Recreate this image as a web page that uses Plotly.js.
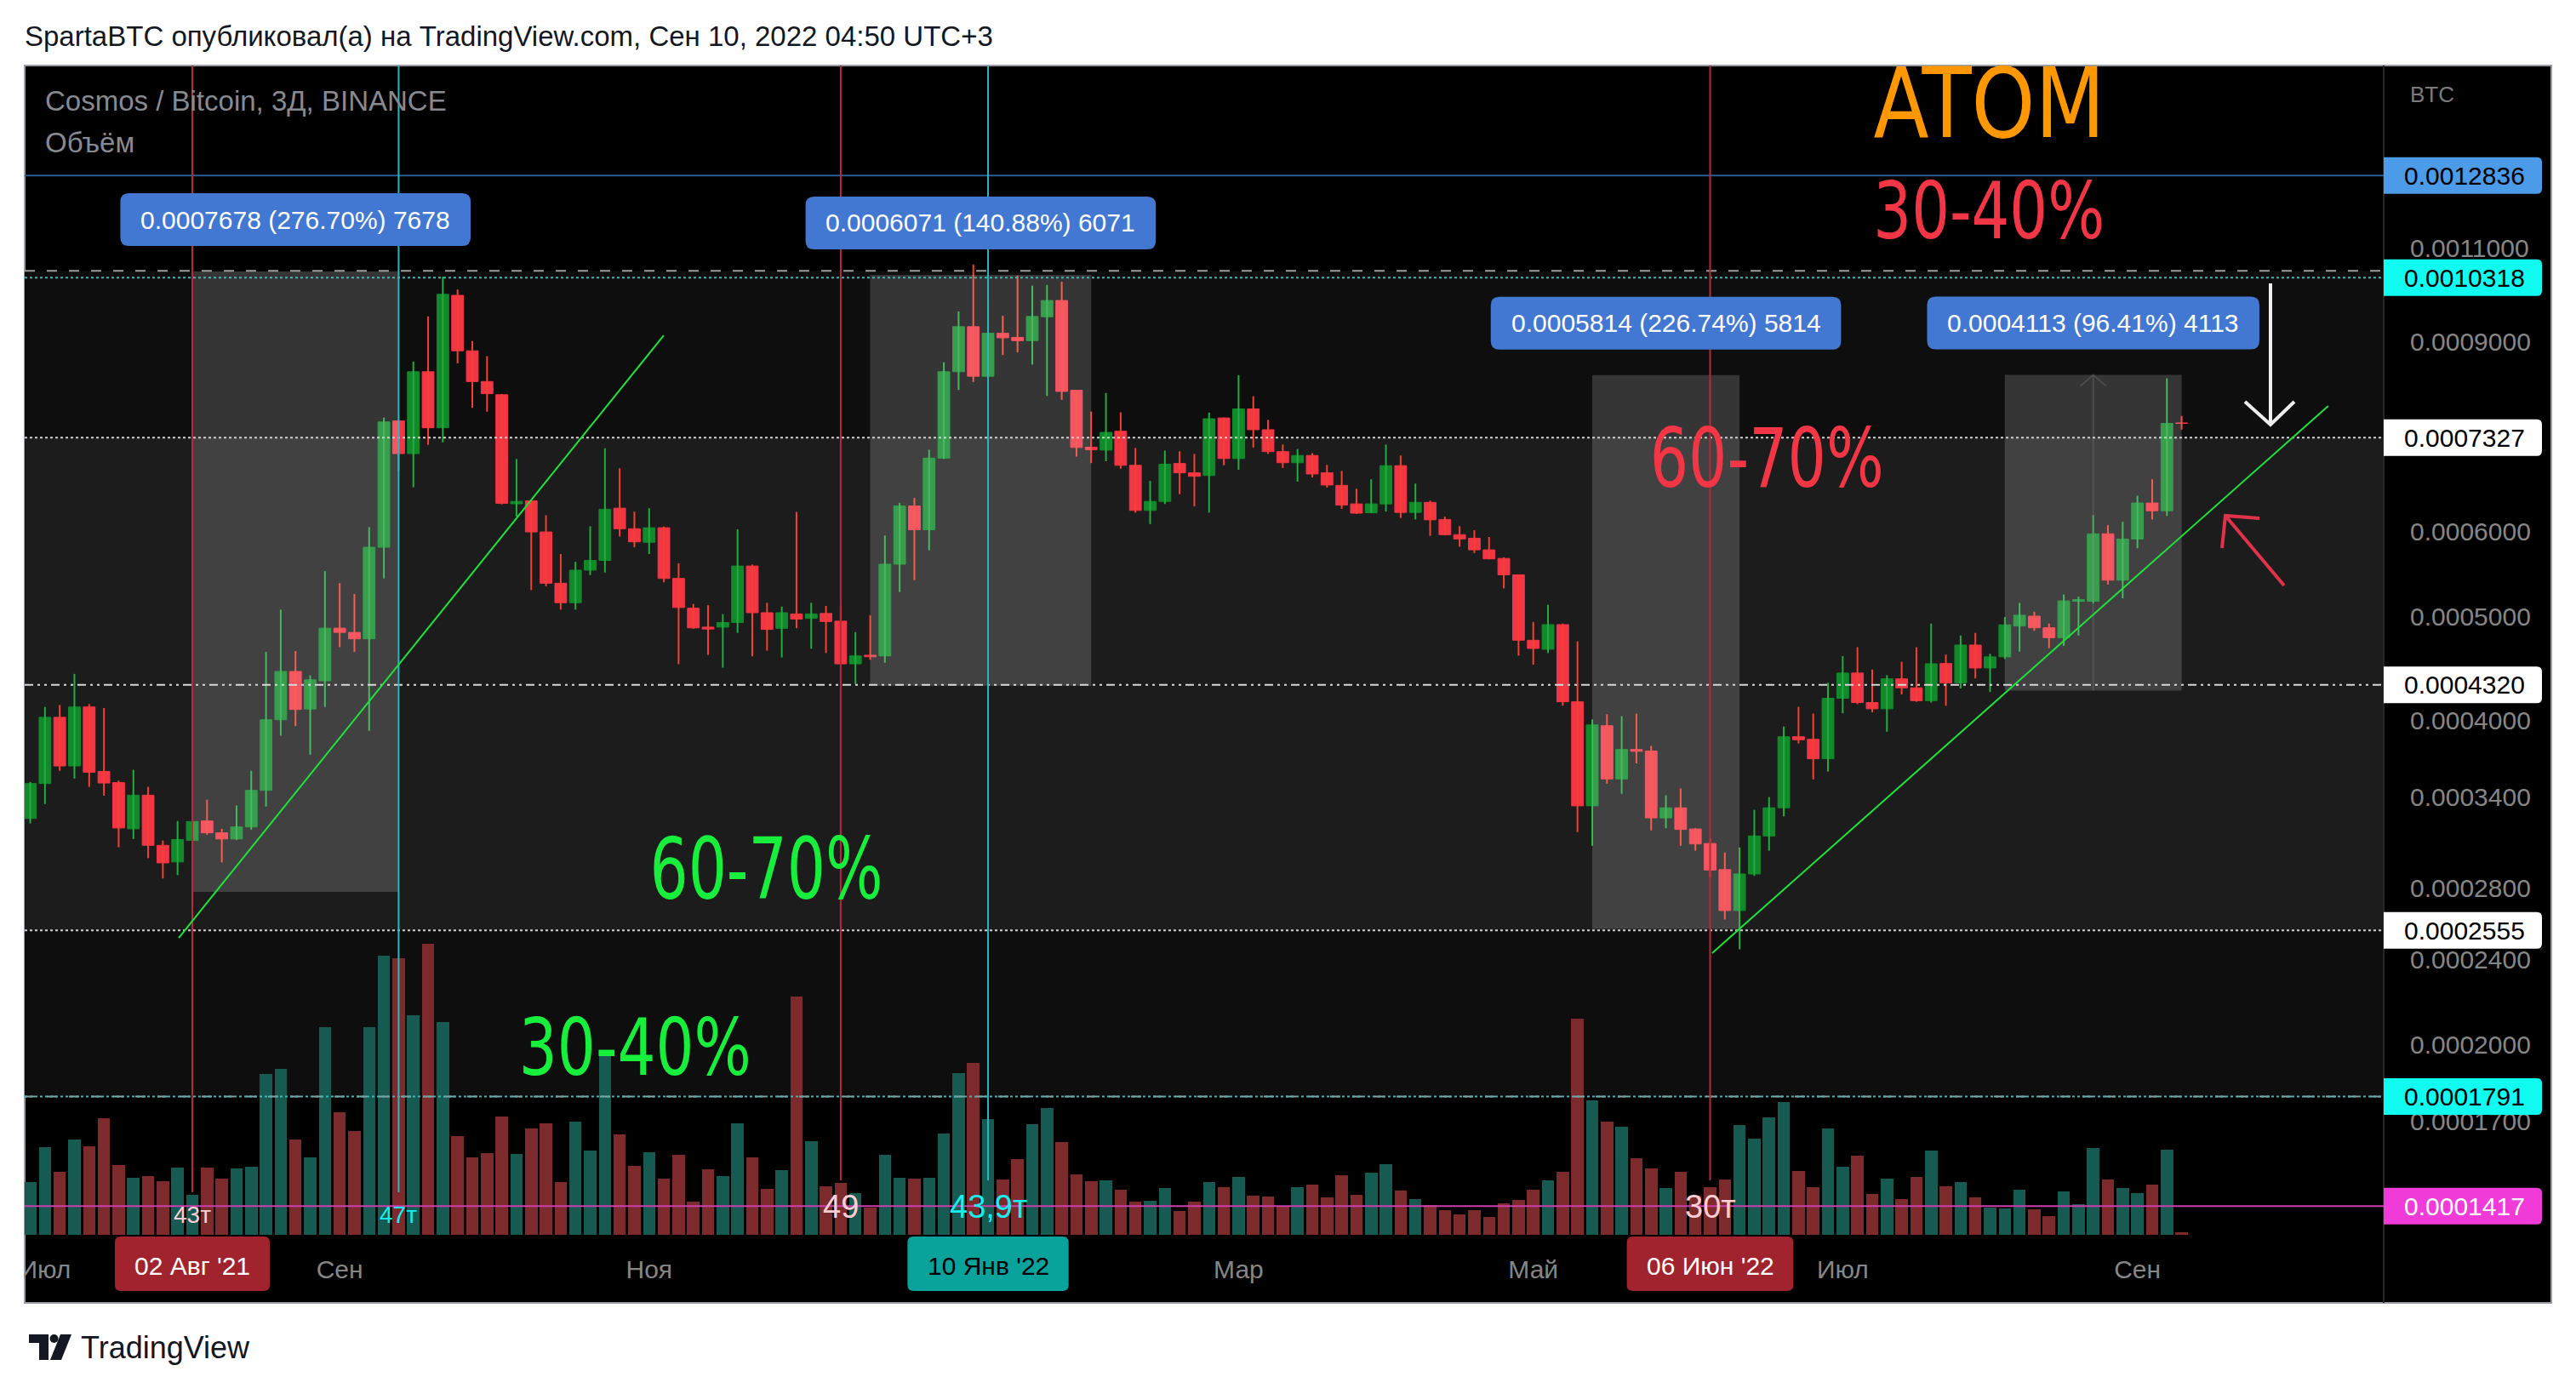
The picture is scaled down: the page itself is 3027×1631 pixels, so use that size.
<!DOCTYPE html>
<html>
<head>
<meta charset="utf-8">
<script src="https://cdn.plot.ly/plotly-3.0.1.min.js"></script>
<style>
  html, body { margin: 0; padding: 0; background: #ffffff; }
  #chart { width: 3027px; height: 1631px; }
</style>
</head>
<body>
<div id="chart"></div>
<script>
// ================= DATA =================
// 3-day candles, Cosmos / Bitcoin (BINANCE). Prices are given in units of 1e-7 BTC.
const PRICE_UNIT = 1e-7;
const dates = [
 "2021-06-30","2021-07-03","2021-07-06","2021-07-09","2021-07-12","2021-07-15","2021-07-18","2021-07-21","2021-07-24","2021-07-27",
 "2021-07-30","2021-08-02","2021-08-05","2021-08-08","2021-08-11","2021-08-14","2021-08-17","2021-08-20","2021-08-23","2021-08-26",
 "2021-08-29","2021-09-01","2021-09-04","2021-09-07","2021-09-10","2021-09-13","2021-09-16","2021-09-19","2021-09-22","2021-09-25",
 "2021-09-28","2021-10-01","2021-10-04","2021-10-07","2021-10-10","2021-10-13","2021-10-16","2021-10-19","2021-10-22","2021-10-25",
 "2021-10-28","2021-10-31","2021-11-03","2021-11-06","2021-11-09","2021-11-12","2021-11-15","2021-11-18","2021-11-21","2021-11-24",
 "2021-11-27","2021-11-30","2021-12-03","2021-12-06","2021-12-09","2021-12-12","2021-12-15","2021-12-18","2021-12-21","2021-12-24",
 "2021-12-27","2021-12-30","2022-01-01","2022-01-04","2022-01-07","2022-01-10","2022-01-13","2022-01-16","2022-01-19","2022-01-22",
 "2022-01-25","2022-01-28","2022-01-31","2022-02-03","2022-02-06","2022-02-09","2022-02-12","2022-02-15","2022-02-18","2022-02-21",
 "2022-02-24","2022-02-27","2022-03-02","2022-03-05","2022-03-08","2022-03-11","2022-03-14","2022-03-17","2022-03-20","2022-03-23",
 "2022-03-26","2022-03-29","2022-04-01","2022-04-04","2022-04-07","2022-04-10","2022-04-13","2022-04-16","2022-04-19","2022-04-22",
 "2022-04-25","2022-04-28","2022-05-01","2022-05-04","2022-05-07","2022-05-10","2022-05-13","2022-05-16","2022-05-19","2022-05-22",
 "2022-05-25","2022-05-28","2022-05-31","2022-06-03","2022-06-06","2022-06-09","2022-06-12","2022-06-15","2022-06-18","2022-06-21",
 "2022-06-24","2022-06-27","2022-06-30","2022-07-03","2022-07-06","2022-07-09","2022-07-12","2022-07-15","2022-07-18","2022-07-21",
 "2022-07-24","2022-07-27","2022-07-30","2022-08-02","2022-08-05","2022-08-08","2022-08-11","2022-08-14","2022-08-17","2022-08-20",
 "2022-08-23","2022-08-26","2022-08-29","2022-09-01","2022-09-04","2022-09-07","2022-09-10"
];
const priceOpen = [
 3246,3498,4030,3632,4120,3590,3505,3175,3412,3065, 2958,3097,3229,3148,3107,3188,3447,4009,4445,4102,
 4357,4876,4832,4766,5797,7594,7082,8436,7484,9934, 8823,8262,8032,6361,6401,5990,5368,5149,5520,5636,
 6302,6031,5859,6044,5423,5089,4887,4887,4935,5569, 5040,4875,5027,4979,5032,4950,4518,4602,4595,5591,
 6332,6018,7014,8437,9290,8355,9160,9080,9017,9489, 9825,8109,7180,7135,7429,6907,6272,6394,6934,6797,
 6758,7643,7008,7792,7453,7112,6945,7054,6797,6617, 6360,6240,6360,6902,6245,6381,6152,5955,5910,5765,
 5660,5465,4752,4661,4913,4166,3335,3958,3532,3762, 3750,3250,3321,3174,3077,2910,2666,2883,3127,3321,
 3866,3845,3688,4197,4430,4159,4104,4375,4292,4176, 4521,4338,4703,4478,4586,4898,5003,4880,4778,5165,
 5165,5966,5403,5900,6372,6267,7562
];
const priceHigh = [
 3510,4120,4137,4422,4146,4111,3520,3602,3473,3097, 3229,3289,3379,3175,3338,3594,4634,5073,4643,4408,
 5509,5368,5246,6051,7648,7620,8624,9496,10337,10059, 9009,8722,8045,7000,6410,6209,5714,5619,6063,7163,
 6863,6255,6302,6060,5602,5135,5122,5024,6024,5587, 5148,5106,6252,5148,5114,5122,4835,5011,5945,6374,
 6441,7140,8609,9598,10611,9765,9509,10363,10140,10156, 10229,8115,7748,8062,7736,7168,6681,7128,7117,7077,
 7731,7650,8376,8005,7612,7222,7152,7088,6913,6824, 6570,6704,7220,7054,6642,6404,6188,6065,6011,5926,
 5674,5470,4941,5126,4924,4740,4012,4056,4039,4062, 3791,3411,3462,3180,3107,3018,3051,3307,3398,3952,
 4121,4062,4339,4594,4681,4463,4410,4538,4681,4924, 4608,4800,4827,4616,4994,5146,5050,4925,5240,5216,
 6209,6077,6123,6473,6704,8320,7676
];
const priceLow = [
 3212,3348,3594,3535,3473,3408,3052,3107,2982,2855, 2876,3081,3135,2955,3100,3169,3330,3875,3955,3720,
 4120,4682,4634,3915,5423,6834,6590,7216,7254,8588, 7809,7745,6354,6190,5290,5334,5073,5073,5462,5492,
 5932,5797,5714,5379,4515,4870,4606,4481,4827,4591, 4647,4580,4875,4667,4624,4510,4327,4557,4528,5269,
 5403,5760,7000,8115,8254,8335,8744,8793,8569,8011, 7945,7037,6940,6967,6857,6242,6091,6359,6493,6328,
 6242,6907,6841,7175,7077,6868,6671,6730,6585,6294, 6224,6235,6256,6172,6152,5940,5950,5803,5726,5650,
 5309,4598,4510,4624,4131,3153,3062,3497,3422,3652, 3164,3179,3062,3030,2864,2615,2454,2871,3030,3261,
 3811,3529,3589,4065,4145,4073,3907,4232,4166,4159, 4131,4286,4379,4254,4565,4638,4849,4672,4694,4800,
 5140,5354,5197,5785,6152,6198,7456
];
const priceClose = [
 3498,4030,3632,4120,3583,3502,3181,3412,3065,2952, 3103,3225,3148,3107,3188,3447,4009,4445,4098,4367,
 4876,4832,4766,5797,7578,7082,8436,7484,9955,8823, 8262,8050,6368,6394,5990,5368,5149,5520,5636,6288,
 6031,5864,6044,5423,5096,4879,4867,4935,5569,5040, 4863,5040,4971,5027,4946,4518,4595,4587,5591,6332,
 6018,7014,8437,9290,8355,9160,9072,9017,9495,9825, 8089,7175,7140,7411,6907,6272,6394,6924,6797,6747,
 7630,7008,7792,7453,7112,6945,7054,6780,6622,6344, 6235,6360,6902,6245,6381,6147,5955,5901,5765,5655,
 5465,4752,4669,4913,4166,3335,3965,3532,3762,3747, 3250,3321,3171,3074,2907,2666,2883,3127,3321,3866,
 3841,3688,4197,4430,4159,4104,4375,4292,4176,4519, 4338,4703,4478,4586,4911,5013,4880,4778,5169,5183,
 5966,5403,5900,6372,6267,7554,7556
];
// volume (relative units)
const volume = [
 62,103,74,112,104,137,82,67,69,63, 79,47,79,66,78,80,189,195,112,91,
 244,144,122,244,328,325,258,342,250,116, 91,96,139,95,125,131,62,133,99,211,
 118,81,97,66,94,39,77,69,131,91, 54,76,280,110,57,61,49,32,94,67,
 66,67,119,190,202,136,65,89,130,149, 109,71,63,64,53,39,40,55,28,39,
 62,56,68,46,45,34,56,59,44,70, 47,73,83,52,42,35,29,24,29,21,
 37,41,53,64,74,254,158,133,127,90, 78,55,74,46,56,65,129,113,138,156,
 75,56,125,80,93,48,66,42,68,99, 57,62,44,32,31,53,30,22,51,36,
 102,65,55,49,59,100,3
];

// price axis ticks (BTC)
const yTickValues = [0.0011, 0.0009, 0.0006, 0.0005, 0.0004, 0.00034, 0.00028, 0.00024, 0.0002, 0.00017];
// horizontal level drawings (BTC), each with its price-axis label
const levelPrices = [0.0012836, 0.0010318, 0.0007327, 0.0004320, 0.0002555, 0.0001791, 0.0001417];
// shaded zones (BTC)
const zoneOuter = [0.0001791, 0.0010470];
const zoneInner = [0.0002555, 0.0007327];
// price-range measurements (bar index from/to, low/high in BTC)
const rangeStartIdx = [11, 57, 106, 134];
const rangeEndIdx = [25, 72, 116, 146];
const rangeLow = [0.0002775, 0.0004309, 0.0002564, 0.0004266];
const rangeHigh = [0.0010453, 0.0010380, 0.0008378, 0.0008379];
const rangeLabels = ["0.0007678 (276.70%) 7678", "0.0006071 (140.88%) 6071", "0.0005814 (226.74%) 5814", "0.0004113 (96.41%) 4113"];
// vertical marker lines (bar index) and their texts
const markerIdx = [11, 25, 55, 65, 114];
const markerLabels = ["43т", "47т", "49", "43,9т", "30т"];
const dateBoxIdx = [11, 65, 114];
// trend lines (bar index, BTC)
const trend1Idx = [10.08, 42.99];
const trend1Price = [0.0002515, 0.000912];
const trend2Idx = [114.14, 155.95];
const trend2Price = [0.0002434, 0.0007842];
// time axis (January 2022 label is hidden under the date box)
const MONTHS_RU = ["Янв","Фев","Мар","Апр","Май","Июн","Июл","Авг","Сен","Окт","Ноя","Дек"];
const tickMonths = ["2021-07","2021-09","2021-11","2022-03","2022-05","2022-07","2022-09"];

// ================= VIEW / STYLE =================
const FONT = '"Liberation Sans", Arial, sans-serif';
const BIG = '"DejaVu Sans Condensed", "DejaVu Sans", sans-serif';
const G = {l: 29, t: 77, r: 2801, b: 1451, frameR: 2998, frameB: 1531};
const W = G.r - G.l, H = G.b - G.t;
const px = X => (X - G.l) / W;
const py = Y => (G.b - Y) / H;
const X_RANGE = [-0.377, 159.71];
const P_RANGE = [0.00013328, 0.0016237];
const LOGR = [Math.log10(P_RANGE[0]), Math.log10(P_RANGE[1])];
const xPaper = i => (i - X_RANGE[0]) / (X_RANGE[1] - X_RANGE[0]);
const yPaper = p => (Math.log10(p) - LOGR[0]) / (LOGR[1] - LOGR[0]);

const cvs = document.createElement('canvas').getContext('2d');
function tw(text, size, fam) { cvs.font = size + 'px ' + fam; return cvs.measureText(text).width; }
function f(v) { return (+v).toFixed(2); }
function fp(v) { return (+v).toFixed(6); }
function rr(cx, cy, w, h, r) {
  const x0 = cx - w / 2, x1 = cx + w / 2, y0 = cy - h / 2, y1 = cy + h / 2;
  return `M${f(x0 + r)},${f(y0)} H${f(x1 - r)} Q${f(x1)},${f(y0)} ${f(x1)},${f(y0 + r)} V${f(y1 - r)} Q${f(x1)},${f(y1)} ${f(x1 - r)},${f(y1)} H${f(x0 + r)} Q${f(x0)},${f(y1)} ${f(x0)},${f(y1 - r)} V${f(y0 + r)} Q${f(x0)},${f(y0)} ${f(x0 + r)},${f(y0)} Z`;
}
function ppath(segs, close) {
  return segs.map(seg => seg.map((p, j) => (j === 0 ? 'M' : 'L') + fp(px(p[0])) + ',' + fp(py(p[1]))).join(' ') + (close ? ' Z' : '')).join(' ');
}

const idx = dates.map((d, i) => i);
const O = priceOpen.map(v => v * PRICE_UNIT);
const Hh = priceHigh.map(v => v * PRICE_UNIT);
const L = priceLow.map(v => v * PRICE_UNIT);
const C = priceClose.map(v => v * PRICE_UNIT);
const up = idx.map(i => priceClose[i] >= priceOpen[i]);

function wicks(dir) {
  const x = [], y = [];
  idx.forEach(i => { if (up[i] === dir) { x.push(i, i, null); y.push(L[i], Hh[i], null); } });
  return {x, y};
}
const wu = wicks(true), wd = wicks(false);

const traces = [
  {type: 'bar', x: idx, y: volume, yaxis: 'y2', width: 0.84,
   marker: {color: up.map(u => u ? '#165a51' : '#7d2a2d'), line: {width: 0}}, hoverinfo: 'skip'},
  {type: 'scatter', mode: 'lines', x: wu.x, y: wu.y, line: {color: '#22ad3f', width: 2}, hoverinfo: 'skip', connectgaps: false},
  {type: 'scatter', mode: 'lines', x: wd.x, y: wd.y, line: {color: '#f5402e', width: 2}, hoverinfo: 'skip', connectgaps: false},
  {type: 'bar', x: idx, base: idx.map(i => Math.min(O[i], C[i])), y: idx.map(i => Math.abs(C[i] - O[i])), width: 0.8,
   marker: {color: up.map(u => u ? '#128a2c' : '#f23645'), line: {color: up.map(u => u ? '#128a2c' : '#f23645'), width: 1}}, hoverinfo: 'skip'}
];

// x ticks
const tickIdx = tickMonths.map(m => dates.findIndex(d => d.startsWith(m)));
const tickText = tickMonths.map(m => { const [y, mo] = m.split('-'); return mo === '01' ? y : MONTHS_RU[+mo - 1]; });
function fmtDate(d) { const [y, m, dd] = d.split('-'); return `${dd} ${MONTHS_RU[+m - 1]} '${y.slice(2)}`; }

const shapes = [];
const ann = [];
const stretch = {};   // annotation index -> target width in px
// frame + zones
shapes.push({type: 'rect', xref: 'paper', yref: 'paper', x0: px(G.l), x1: px(G.frameR), y0: py(G.frameB), y1: py(G.t), fillcolor: '#000000', line: {color: '#9a9da6', width: 2}, layer: 'below'});
shapes.push({type: 'rect', xref: 'paper', yref: 'paper', x0: 0, x1: 1, y0: yPaper(zoneOuter[0]), y1: yPaper(zoneOuter[1]), fillcolor: '#0e0e0e', line: {width: 0}, layer: 'below'});
shapes.push({type: 'rect', xref: 'paper', yref: 'paper', x0: 0, x1: 1, y0: yPaper(zoneInner[0]), y1: yPaper(zoneInner[1]), fillcolor: '#1c1c1c', line: {width: 0}, layer: 'below'});
shapes.push({type: 'line', xref: 'paper', yref: 'paper', x0: 1, x1: 1, y0: py(G.frameB), y1: 1, line: {color: '#262626', width: 2}, layer: 'below'});

// price-range rectangles (semi-transparent, above candles)
rangeStartIdx.forEach((s, k) => {
  shapes.push({type: 'rect', xref: 'x', yref: 'y', x0: s, x1: rangeEndIdx[k], y0: rangeLow[k], y1: rangeHigh[k], fillcolor: 'rgba(255,255,255,0.165)', line: {width: 0}, layer: 'above'});
});
{ const k = 3, mid = (rangeStartIdx[k] + rangeEndIdx[k]) / 2;
  shapes.push({type: 'line', xref: 'x', yref: 'y', x0: mid, x1: mid, y0: rangeLow[k], y1: rangeHigh[k], line: {color: 'rgba(110,110,110,0.4)', width: 2}, layer: 'above'});
  shapes.push({type: 'path', xref: 'x', yref: 'y', xsizemode: 'pixel', ysizemode: 'pixel', xanchor: mid, yanchor: rangeHigh[k], path: 'M-15,-13 L0,0 L15,-13', line: {color: 'rgba(110,110,110,0.4)', width: 2}, fillcolor: 'rgba(0,0,0,0)', layer: 'above'});
}

// horizontal levels
function hline(p, style) { return {type: 'line', xref: 'paper', x0: 0, x1: 1, yref: 'paper', y0: yPaper(p), y1: yPaper(p), line: style, layer: 'above'}; }
zoneOuter.forEach(p => shapes.push(hline(p, {color: '#9c9c9c', width: 2, dash: '12px,14px'})));
const levelStyles = [
  {color: '#2b5d92', width: 2, dash: 'solid'},
  {color: '#20c4c4', width: 2, dash: 'dot'},
  {color: '#d0d0d0', width: 2, dash: '3px,3px'},
  {color: '#d8d8d8', width: 2, dash: '10px,5px,3px,5px,3px,5px'},
  {color: '#d0d0d0', width: 2, dash: '3px,3px'},
  {color: '#20c4c4', width: 2, dash: 'dot'},
  {color: '#cc3fae', width: 2, dash: 'solid'}
];
levelPrices.forEach((p, k) => shapes.push(hline(p, levelStyles[k])));

// vertical markers
const markerColor = ['#b8293a', '#2ab7be', '#b8293a', '#2ab7be', '#b8293a'];
const markerTextColor = ['#ffcdd2', '#14f0ee', '#ffcdd2', '#14f0ee', '#ffcdd2'];
const markerSize = [28, 28, 38, 38, 38];
const markerLabelY = [1427, 1427, 1418, 1418, 1418];
markerIdx.forEach((i, k) => {
  shapes.push({type: 'line', xref: 'x', yref: 'paper', x0: i, x1: i, y0: py(markerLabelY[k] - markerSize[k] / 2 - 12), y1: 1, line: {color: markerColor[k], width: 2}, layer: 'above'});
  ann.push({xref: 'x', yref: 'paper', x: i, y: py(markerLabelY[k]), text: markerLabels[k], showarrow: false, xanchor: 'center', yanchor: 'middle', font: {size: markerSize[k], color: markerTextColor[k], family: FONT}});
});

// trend lines
shapes.push({type: 'line', xref: 'x', yref: 'y', x0: trend1Idx[0], x1: trend1Idx[1], y0: trend1Price[0], y1: trend1Price[1], line: {color: '#1fe23d', width: 2}, layer: 'above'});
shapes.push({type: 'line', xref: 'x', yref: 'y', x0: trend2Idx[0], x1: trend2Idx[1], y0: trend2Price[0], y1: trend2Price[1], line: {color: '#1fe23d', width: 2}, layer: 'above'});

// hand-drawn arrows
shapes.push({type: 'path', xref: 'paper', yref: 'paper', path: ppath([[[2668, 333], [2668, 499]], [[2638, 472], [2668, 499], [2696, 472]]]), line: {color: '#eeeeee', width: 4}, fillcolor: 'rgba(0,0,0,0)', layer: 'above'});
shapes.push({type: 'path', xref: 'paper', yref: 'paper', path: ppath([[[2684, 688], [2615, 606]], [[2611, 644], [2615, 606], [2655, 609]]]), line: {color: '#e0334a', width: 4}, fillcolor: 'rgba(0,0,0,0)', layer: 'above'});

// price-range labels (blue)
rangeStartIdx.forEach((s, k) => {
  const mid = (s + rangeEndIdx[k]) / 2;
  const w = tw(rangeLabels[k], 30, FONT) + 48;
  shapes.push({type: 'path', xref: 'x', yref: 'y', xsizemode: 'pixel', ysizemode: 'pixel', xanchor: mid, yanchor: rangeHigh[k], path: rr(0, 61, w, 62, 10), fillcolor: '#4278d2', line: {width: 0}, layer: 'above'});
  ann.push({xref: 'x', yref: 'y', x: mid, y: Math.log10(rangeHigh[k]), yshift: 61, text: rangeLabels[k], showarrow: false, xanchor: 'center', yanchor: 'middle', font: {size: 30, color: '#ffffff', family: FONT}});
});

// price axis labels
const levelBg = ['#4c9be8', '#10fcf0', '#ffffff', '#ffffff', '#ffffff', '#10fcf0', '#f03bd8'];
const levelFg = ['#000000', '#000000', '#000000', '#000000', '#000000', '#000000', '#ffffff'];
levelPrices.forEach((p, k) => {
  const bw = 186, bh = 43, r = 6;
  const path = `M0,${-bh / 2} H${bw - r} Q${bw},${-bh / 2} ${bw},${-bh / 2 + r} V${bh / 2 - r} Q${bw},${bh / 2} ${bw - r},${bh / 2} H0 Z`;
  shapes.push({type: 'path', xref: 'paper', yref: 'paper', xsizemode: 'pixel', ysizemode: 'pixel', xanchor: 1, yanchor: yPaper(p), path, fillcolor: levelBg[k], line: {width: 0}, layer: 'above'});
  ann.push({xref: 'paper', yref: 'paper', x: px(G.r + bw / 2 + 2), y: yPaper(p), text: p.toFixed(7), showarrow: false, xanchor: 'center', yanchor: 'middle', font: {size: 30, color: levelFg[k], family: FONT}});
});

// time axis date boxes
const dateBoxBg = ['#a1232e', '#0aa39c', '#a1232e'];
const dateBoxFg = ['#ffffff', '#000000', '#ffffff'];
dateBoxIdx.forEach((i, k) => {
  const t = fmtDate(dates[i]);
  const w = tw(t, 30, FONT) + 46;
  shapes.push({type: 'path', xref: 'paper', yref: 'paper', xsizemode: 'pixel', ysizemode: 'pixel', xanchor: xPaper(i), yanchor: py(1485), path: rr(0, 0, w, 64, 7), fillcolor: dateBoxBg[k], line: {width: 0}, layer: 'above'});
  ann.push({xref: 'x', yref: 'paper', x: i, y: py(1487), text: t, showarrow: false, xanchor: 'center', yanchor: 'middle', font: {size: 30, color: dateBoxFg[k], family: FONT}});
});

// cover tick-label overflow left of the chart
shapes.push({type: 'rect', xref: 'paper', yref: 'paper', x0: px(0), x1: px(G.l - 1), y0: py(G.frameB), y1: py(G.b), fillcolor: '#ffffff', line: {width: 0}, layer: 'above'});

// TradingView logo
shapes.push({type: 'path', xref: 'paper', yref: 'paper', path: ppath([[[34, 1568], [57, 1568], [57, 1598], [46, 1598], [46, 1578], [34, 1578]]], true), fillcolor: '#131722', line: {width: 0}, layer: 'above'});
shapes.push({type: 'path', xref: 'paper', yref: 'paper', path: ppath([[[71, 1568], [84, 1568], [72, 1598], [59, 1598]]], true), fillcolor: '#131722', line: {width: 0}, layer: 'above'});
shapes.push({type: 'circle', xref: 'paper', yref: 'paper', x0: px(58.5), x1: px(68.5), y0: py(1578), y1: py(1568), fillcolor: '#131722', line: {width: 0}, layer: 'above'});

// texts
function txt(text, X, Y, size, color, family, xanchor, targetW) {
  if (targetW) stretch[ann.length] = targetW;
  ann.push({xref: 'paper', yref: 'paper', x: px(X), y: py(Y), text, showarrow: false, xanchor: xanchor || 'center', yanchor: 'middle', font: {size, color, family}});
}
txt('SpartaBTC опубликовал(а) на TradingView.com, Сен 10, 2022 04:50 UTC+3', 27, 43, 33, '#131722', FONT, 'left');
txt('Cosmos / Bitcoin, 3Д, BINANCE', 51, 119, 33, '#878a91', FONT, 'left');
txt('Объём', 51, 168, 33, '#878a91', FONT, 'left');
txt('BTC', 2830, 111, 26, '#7b7b7b', FONT, 'left');
txt('TradingView', 93, 1583, 36, '#131722', FONT, 'left');
txt('ATOM', 2337, 121, 114, '#ff9800', BIG, 'center', 272);
txt('30-40%', 2337, 248, 93, '#f23645', BIG, 'center', 272);
txt('60-70%', 2076, 538, 97, '#f23645', BIG, 'center', 275);
txt('60-70%', 900, 1021, 100, '#18ee3c', BIG, 'center', 274);
txt('30-40%', 746, 1231, 93, '#18ee3c', BIG, 'center', 273);

const layout = {
  width: 3027, height: 1631,
  margin: {l: G.l, r: 3027 - G.r, t: G.t, b: 1631 - G.b, pad: 0},
  paper_bgcolor: '#ffffff', plot_bgcolor: '#000000',
  showlegend: false, barmode: 'overlay', bargap: 0,
  font: {family: FONT, size: 30, color: '#868686'},
  xaxis: {type: 'linear', range: X_RANGE, tickmode: 'array', tickvals: tickIdx, ticktext: tickText,
          ticks: 'outside', ticklen: 14, tickcolor: 'rgba(0,0,0,0)', tickfont: {size: 30, color: '#868686', family: FONT},
          showgrid: false, zeroline: false, showline: false, fixedrange: true},
  yaxis: {type: 'log', range: LOGR, side: 'right', tickmode: 'array', tickvals: yTickValues, ticktext: yTickValues.map(v => v.toFixed(7)),
          ticks: 'outside', ticklen: 24, tickcolor: 'rgba(0,0,0,0)', tickfont: {size: 30, color: '#868686', family: FONT},
          showgrid: false, zeroline: false, showline: false, fixedrange: true},
  yaxis2: {overlaying: 'y', range: [0, H], visible: false, fixedrange: true},
  shapes, annotations: ann
};

Plotly.newPlot('chart', traces, layout, {staticPlot: true, displayModeBar: false}).then(() => {
  // narrow the large hand-written labels horizontally to the reference width
  document.querySelectorAll('#chart .annotation').forEach(g => {
    const k = +g.getAttribute('data-index');
    if (!(k in stretch)) return;
    const t = g.querySelector('text');
    if (!t) return;
    const bb = t.getBBox();
    if (!bb.width) return;
    const sx = stretch[k] / bb.width, cx = bb.x + bb.width / 2;
    t.setAttribute('transform', `translate(${cx},0) scale(${sx},1) translate(${-cx},0)`);
  });
});
</script>
</body>
</html>
